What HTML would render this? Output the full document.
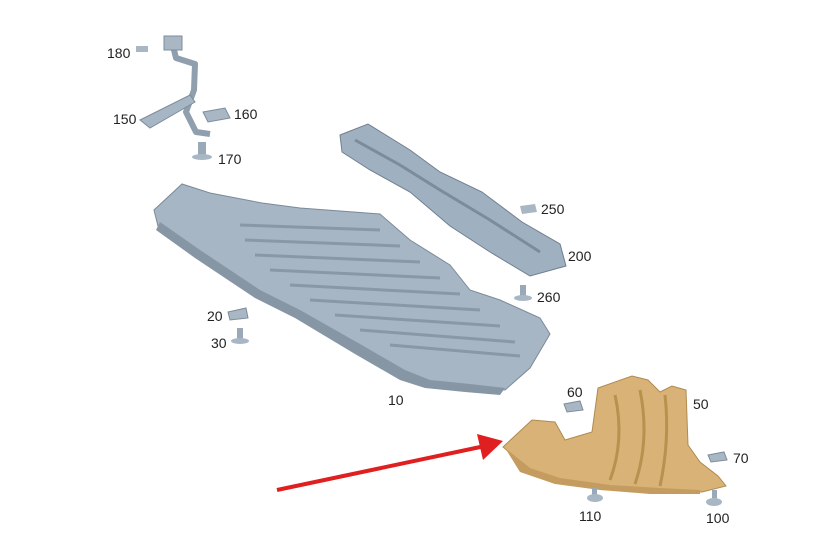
<!DOCTYPE html>
<html><head><style>
html,body{margin:0;padding:0;background:#fff}
svg{display:block}
text{font-family:"Liberation Sans",sans-serif;font-size:14px;fill:#222}
</style></head><body>
<svg width="838" height="544" viewBox="0 0 838 544">
<rect width="838" height="544" fill="#fff"/>
<!-- bracket 150 -->
<polyline points="172,42 176,58 195,64 194,90 186,112 196,132 210,134" fill="none" stroke="#8f9fae" stroke-width="6" stroke-linejoin="round"/>
<polygon points="140,120 190,95 195,102 150,128" fill="#a7b6c4" stroke="#7d8c9a" stroke-width="1"/>
<rect x="164" y="36" width="18" height="14" fill="#a9b7c4" stroke="#7d8c9a"/>
<rect x="136" y="46" width="12" height="6" fill="#a9b7c4"/>
<polygon points="203,112 225,108 230,118 208,122" fill="#a9b7c4" stroke="#7d8c9a"/>
<rect x="198" y="142" width="8" height="14" fill="#9aa9b7"/><ellipse cx="202" cy="157" rx="10" ry="3" fill="#a9b7c4"/>
<!-- part 200 -->
<polygon points="340,135 368,124 410,150 440,172 482,192 522,222 560,244 566,266 530,276 490,252 450,226 410,192 370,170 342,152" fill="#9fb0c0" stroke="#6f7f8e" stroke-width="1"/>
<polyline points="355,140 400,165 440,190 490,220 540,252" fill="none" stroke="#7c8c9b" stroke-width="3"/>
<polygon points="520,206 535,204 537,212 522,214" fill="#a9b7c4"/>
<rect x="520" y="285" width="6" height="12" fill="#9aa9b7"/><ellipse cx="523" cy="298" rx="9" ry="3" fill="#a9b7c4"/>
<!-- main tray 10 -->
<polygon points="154,210 182,184 210,193 262,203 300,208 380,214 410,240 450,265 470,290 500,300 540,318 550,334 530,368 505,390 470,386 430,382 405,372 360,346 300,312 260,292 200,252 158,226" fill="#a6b6c5" stroke="#7a8a99" stroke-width="1"/>
<polygon points="160,222 200,250 260,290 300,310 360,344 405,370 430,380 470,384 505,388 500,395 465,392 425,388 400,380 355,354 295,318 255,298 195,258 156,230" fill="#8696a5"/>
<g stroke="#8898a7" stroke-width="3">
<line x1="240" y1="225" x2="380" y2="230"/><line x1="245" y1="240" x2="400" y2="246"/>
<line x1="255" y1="255" x2="420" y2="262"/><line x1="270" y1="270" x2="440" y2="278"/>
<line x1="290" y1="285" x2="460" y2="294"/><line x1="310" y1="300" x2="480" y2="310"/>
<line x1="335" y1="315" x2="500" y2="326"/><line x1="360" y1="330" x2="515" y2="342"/>
<line x1="390" y1="345" x2="520" y2="356"/>
</g>
<polygon points="228,312 246,308 248,318 230,320" fill="#a9b7c4" stroke="#7d8c9a"/>
<rect x="237" y="328" width="6" height="12" fill="#9aa9b7"/><ellipse cx="240" cy="341" rx="9" ry="3" fill="#a9b7c4"/>
<!-- tan part 50 -->
<polygon points="503,447 532,420 555,422 565,440 592,432 598,388 632,376 648,380 660,392 672,386 686,390 688,445 700,462 718,476 726,486 702,492 660,490 610,487 560,480 530,470" fill="#d8b276" stroke="#b08a50" stroke-width="1"/>
<polygon points="505,448 530,468 560,478 610,485 660,488 700,490 700,494 650,494 600,490 555,484 520,472" fill="#c49c5f"/>
<g stroke="#b8914f" stroke-width="3" fill="none">
<path d="M615,395 Q625,440 610,480"/><path d="M640,390 Q650,440 635,484"/><path d="M665,395 Q670,440 660,486"/>
</g>
<polygon points="564,404 580,401 583,410 567,412" fill="#a9b7c4" stroke="#7d8c9a"/>
<polygon points="708,455 724,452 727,460 711,462" fill="#a9b7c4" stroke="#7d8c9a"/>
<rect x="592" y="488" width="5" height="10" fill="#9aa9b7"/><ellipse cx="595" cy="498" rx="8" ry="4" fill="#a9b7c4"/>
<rect x="712" y="490" width="5" height="10" fill="#9aa9b7"/><ellipse cx="714" cy="502" rx="8" ry="4" fill="#a9b7c4"/>
<!-- red arrow -->
<line x1="277" y1="490" x2="485" y2="446" stroke="#e02020" stroke-width="4"/>
<polygon points="503,441 477,434 483,460" fill="#e02020"/>
<!-- labels -->
<text x="107" y="58">180</text>
<text x="113" y="124">150</text>
<text x="234" y="119">160</text>
<text x="218" y="164">170</text>
<text x="541" y="214">250</text>
<text x="568" y="261">200</text>
<text x="537" y="302">260</text>
<text x="207" y="321">20</text>
<text x="211" y="348">30</text>
<text x="388" y="405">10</text>
<text x="567" y="397">60</text>
<text x="693" y="409">50</text>
<text x="733" y="463">70</text>
<text x="579" y="521">110</text>
<text x="706" y="523">100</text>
</svg>
</body></html>
